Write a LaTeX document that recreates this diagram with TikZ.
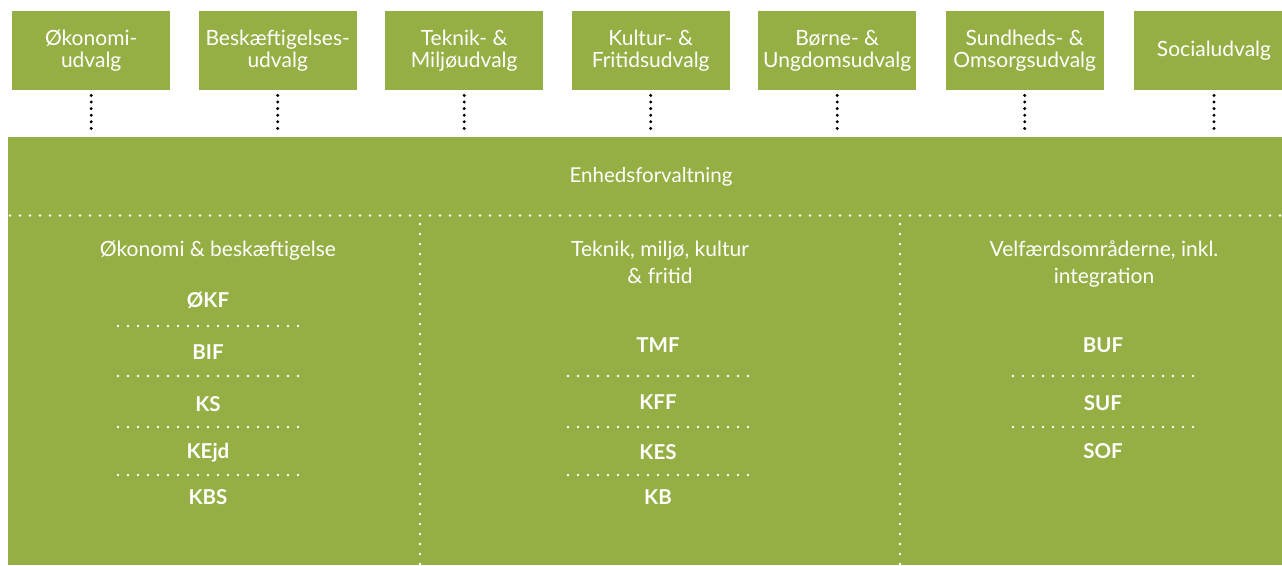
\documentclass[tikz,border=0pt]{standalone}
\usepackage{fontspec}
\setmainfont{Lato}
\definecolor{grn}{RGB}{150,175,68}
\tikzset{
  topbox/.style={fill=grn, minimum width=158pt, minimum height=79pt, inner sep=0pt,
    anchor=north west, text=white, align=center, font=\fontsize{21}{22}\selectfont},
  blackdots/.style={draw=black, line width=3.3pt, line cap=round, dash pattern=on 0pt off 6.6pt},
  whitedots/.style={draw=white, line width=2.7pt, line cap=round, dash pattern=on 0pt off 10pt},
  head/.style={text=white, align=center, anchor=base, inner sep=0pt, font=\fontsize{21}{27}\selectfont},
  lbl/.style={text=white, anchor=base, inner sep=0pt, font=\fontsize{20.5}{22}\selectfont\bfseries},
}
\begin{document}
\begin{tikzpicture}[x=1pt,y=-1pt]
\useasboundingbox (0,0) rectangle (1282,565);
% main block
\node[fill=grn, anchor=north west, minimum width=1274pt, minimum height=428pt, inner sep=0pt] (mainbox) at (8,137) {};
% top boxes
\node[topbox] (b1) at (12,11) {Økonomi-\\udvalg};
\node[topbox] (b2) at (198.5,11) {Beskæftigelses-\\udvalg};
\node[topbox] (b3) at (385,11) {Teknik- \&\\Miljøudvalg};
\node[topbox] (b4) at (571.5,11) {Kultur- \&\\Fritidsudvalg};
\node[topbox] (b5) at (758,11) {Børne- \&\\Ungdomsudvalg};
\node[topbox] (b6) at (945.5,11) {Sundheds- \&\\Omsorgsudvalg};
\node[topbox, minimum width=148pt] (b7) at (1134,11) {};
\node[text=white, font=\fontsize{21}{22}\selectfont, inner sep=0pt] (b7t) at (1214,50.5) {Socialudvalg};
% connectors
\foreach \b in {b1,b2,b3,b4,b5,b6}{
  \draw[blackdots, shorten <=5pt, shorten >=3pt] (\b.south) -- (\b.south |- mainbox.north);
}
\draw[blackdots, shorten <=5pt, shorten >=3pt] (b7t |- b7.south) -- (b7t |- mainbox.north);
% title
\node[text=white, anchor=base, inner sep=0pt, font=\fontsize{20.5}{22}\selectfont] (title) at (651,182) {Enhedsforvaltning};
% dividers
\coordinate (hl) at (10,215.5);
\coordinate (hr) at (1282,215.5);
\draw[whitedots] (hl) -- (hr);
\coordinate (v1t) at (420,224);
\coordinate (v1b) at (420,565);
\coordinate (v2t) at (900,224);
\coordinate (v2b) at (900,565);
\draw[whitedots] (v1t) -- (v1b);
\draw[whitedots] (v2t) -- (v2b);
% column headings
\node[head] (h1) at (218,256) {Økonomi \& beskæftigelse};
\node[head] (h2) at (660,283) {Teknik, miljø, kultur\\\& fritid};
\node[head] (h3) at (1104,283) {Velfærdsområderne, inkl.\\integration};
% column 1
\node[lbl] (okf) at (208,307) {ØKF};
\node[lbl] (bif) at (208,359) {BIF};
\node[lbl] (ks) at (208,411) {KS};
\node[lbl] (kejd) at (208,458) {KEjd};
\node[lbl] (kbs) at (208,504) {KBS};
\foreach \y in {326,376,427,475}{
  \draw[whitedots] (118,\y) -- (306,\y);
}
% column 2
\node[lbl] (tmf) at (658,352) {TMF};
\node[lbl] (kff) at (658,409) {KFF};
\node[lbl] (kes) at (658,459) {KES};
\node[lbl] (kb) at (658,504) {KB};
\foreach \y in {376,427,475}{
  \draw[whitedots] (568,\y) -- (756,\y);
}
% column 3
\node[lbl] (buf) at (1103,352) {BUF};
\node[lbl] (suf) at (1103,410) {SUF};
\node[lbl] (sof) at (1103,458) {SOF};
\foreach \y in {376,427}{
  \draw[whitedots] (1013,\y) -- (1201,\y);
}
\end{tikzpicture}
\end{document}
